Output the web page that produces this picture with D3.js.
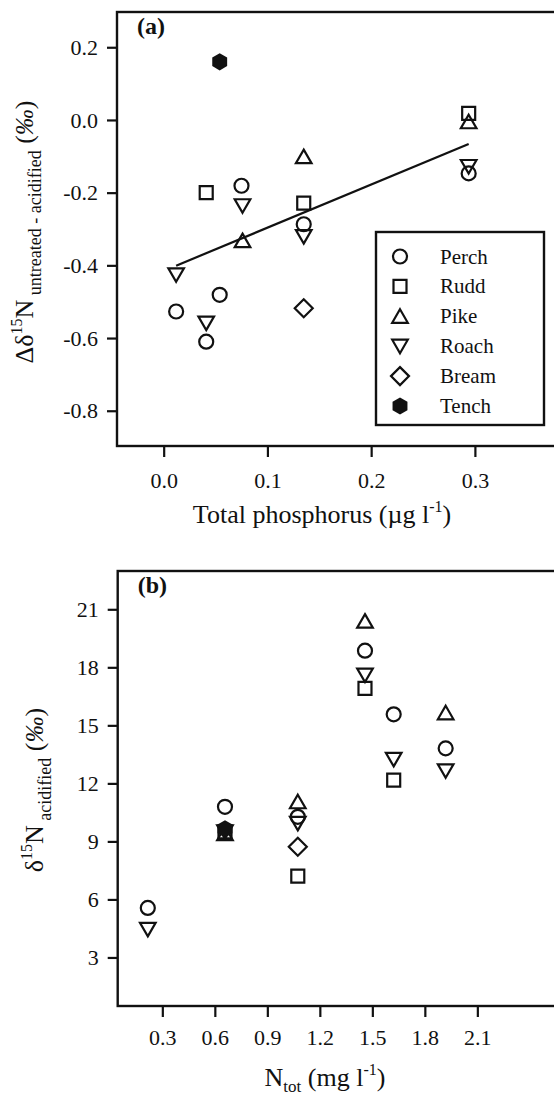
<!DOCTYPE html>
<html><head><meta charset="utf-8">
<script src="https://cdn.jsdelivr.net/npm/d3@7"></script>
<style>
html,body{margin:0;padding:0;background:#fff;}
svg{display:block;}
text{font-family:"Liberation Serif","Times New Roman",serif;fill:#111;}
</style></head>
<body>
<svg id="chart" width="554" height="1096"></svg>
<script>
// ---------- DATA ----------
const species = ["Perch", "Rudd", "Pike", "Roach", "Bream", "Tench"];
const shapes  = ["circle", "square", "triUp", "triDown", "diamond", "hexagon"];

// Panel (a): [total phosphorus, Δδ15N]
const perchA = [[0.012,-0.527],[0.041,-0.610],[0.054,-0.481],[0.075,-0.181],[0.135,-0.287],[0.294,-0.147]];
const ruddA  = [[0.041,-0.200],[0.135,-0.229],[0.294,0.018]];
const pikeA  = [[0.076,-0.332],[0.135,-0.101],[0.294,-0.005]];
const roachA = [[0.012,-0.426],[0.041,-0.559],[0.076,-0.236],[0.135,-0.321],[0.294,-0.128]];
const breamA = [[0.135,-0.518]];
const tenchA = [[0.054,0.160]];
const fitLineX = [0.012, 0.294];
const fitLineY = [-0.401, -0.066];
const xTicksA = [0.0, 0.1, 0.2, 0.3];
const yTicksA = [-0.8, -0.6, -0.4, -0.2, 0.0, 0.2];

// Panel (b): [Ntot, δ15N acidified]
const perchB = [[0.217,5.56],[0.658,10.79],[1.074,10.27],[1.458,18.86],[1.622,15.57],[1.919,13.81]];
const ruddB  = [[0.658,9.5],[1.074,7.20],[1.458,16.91],[1.622,12.17]];
const pikeB  = [[0.658,9.4],[1.074,11.05],[1.458,20.39],[1.919,15.65]];
const roachB = [[0.217,4.45],[0.658,9.5],[1.074,9.93],[1.458,17.60],[1.622,13.24],[1.919,12.65]];
const breamB = [[1.074,8.72]];
const tenchB = [[0.658,9.65]];
const xTicksB = [0.3, 0.6, 0.9, 1.2, 1.5, 1.8, 2.1];
const yTicksB = [3, 6, 9, 12, 15, 18, 21];

const seriesA = [perchA, ruddA, pikeA, roachA, breamA, tenchA];
const seriesB = [perchB, ruddB, pikeB, roachB, breamB, tenchB];

// ---------- DRAW ----------
const svg = d3.select("#chart");
const INK = "#111";
const fmt1 = v => d3.format(".1f")(v).replace("\u2212", "-");

function shapePath(type) {
  const p = d3.path();
  if (type === "circle") { p.arc(0, 0, 7, 0, 2 * Math.PI); p.closePath(); }
  else if (type === "square") { p.rect(-6.5, -6.5, 13, 13); }
  else if (type === "triUp") { p.moveTo(0, -7); p.lineTo(7.8, 6.5); p.lineTo(-7.8, 6.5); p.closePath(); }
  else if (type === "triDown") { p.moveTo(0, 7); p.lineTo(7.8, -6.5); p.lineTo(-7.8, -6.5); p.closePath(); }
  else if (type === "diamond") { p.moveTo(0, -9); p.lineTo(9, 0); p.lineTo(0, 9); p.lineTo(-9, 0); p.closePath(); }
  else if (type === "hexagon") {
    const R = 8.6;
    for (let i = 0; i < 6; i++) {
      const a = -Math.PI / 2 + i * Math.PI / 3;
      const px = R * Math.cos(a), py = R * Math.sin(a);
      if (i === 0) p.moveTo(px, py); else p.lineTo(px, py);
    }
    p.closePath();
  }
  return p.toString();
}

function drawMarker(g, type, cx, cy) {
  const filled = type === "hexagon";
  g.append("path")
    .attr("d", shapePath(type))
    .attr("transform", `translate(${cx},${cy})`)
    .attr("fill", filled ? INK : "none")
    .attr("stroke", filled ? "none" : INK)
    .attr("stroke-width", 2.2);
}

function panel(opt) {
  const g = svg.append("g");
  const x = d3.scaleLinear().domain(opt.xDomain).range([opt.left, opt.right]);
  const y = d3.scaleLinear().domain(opt.yDomain).range([opt.bottom, opt.top]);

  const ax = g.append("g").attr("transform", `translate(0,${opt.bottom})`)
    .call(d3.axisBottom(x).tickValues(opt.xTicks).tickFormat(fmt1).tickSize(11).tickSizeOuter(0).tickPadding(opt.xPad));
  const ay = g.append("g").attr("transform", `translate(${opt.left},0)`)
    .call(d3.axisLeft(y).tickValues(opt.yTicks).tickFormat(opt.yFmt).tickSize(10).tickSizeOuter(0).tickPadding(9));
  [ax, ay].forEach(a => {
    a.select(".domain").remove();
    a.selectAll(".tick line").attr("stroke", INK).attr("stroke-width", 2.2);
    a.selectAll(".tick text").attr("font-family", "Liberation Serif").attr("font-size", 22).attr("fill", INK);
  });

  // frame (right side cropped by the page edge)
  g.append("rect")
    .attr("x", opt.left).attr("y", opt.top)
    .attr("width", opt.right - opt.left).attr("height", opt.bottom - opt.top)
    .attr("fill", "none").attr("stroke", INK).attr("stroke-width", 2.4);

  g.append("text").attr("x", opt.left + 20).attr("y", opt.top + 22)
    .attr("font-size", 24).attr("font-weight", "bold").text(opt.letter);

  if (opt.line) {
    g.append("line")
      .attr("x1", x(opt.line[0][0])).attr("y1", y(opt.line[1][0]))
      .attr("x2", x(opt.line[0][1])).attr("y2", y(opt.line[1][1]))
      .attr("stroke", INK).attr("stroke-width", 2.2);
  }

  opt.series.forEach((pts, i) => {
    pts.forEach(d => drawMarker(g, shapes[i], x(d[0]), y(d[1])));
  });
  return {g, x, y};
}

// Panel (a)
const pA = panel({
  left: 117, right: 561, top: 12, bottom: 446,
  xDomain: [-0.045, 0.383], yDomain: [-0.897, 0.297],
  xTicks: xTicksA, yTicks: yTicksA, yFmt: fmt1, xPad: 15,
  letter: "(a)", series: seriesA, line: [fitLineX, fitLineY]
});

// Legend in panel (a)
const lg = svg.append("g");
lg.append("rect").attr("x", 376).attr("y", 232).attr("width", 168).attr("height", 193)
  .attr("fill", "#fff").attr("stroke", INK).attr("stroke-width", 2.4);
species.forEach((s, i) => {
  const cy = 256.5 + i * 29.9;
  drawMarker(lg, shapes[i], 400, cy);
  lg.append("text").attr("x", 440).attr("y", cy + 7).attr("font-size", 21).text(s);
});

// Panel (b)
const pB = panel({
  left: 117.7, right: 561, top: 571, bottom: 1006,
  xDomain: [0.045, 2.578], yDomain: [0.49, 22.98],
  xTicks: xTicksB, yTicks: yTicksB, yFmt: d3.format("d"), xPad: 12,
  letter: "(b)", series: seriesB, line: null
});

// Axis titles
svg.append("text").attr("x", 322).attr("y", 523).attr("text-anchor", "middle").attr("font-size", 26)
  .call(t => {
    t.append("tspan").text("Total phosphorus (\u00b5g l");
    t.append("tspan").attr("font-size", 16).attr("dy", -11).text("-1");
    t.append("tspan").attr("dy", 11).text(")");
  });
svg.append("text").attr("x", 325).attr("y", 1086).attr("text-anchor", "middle").attr("font-size", 26)
  .call(t => {
    t.append("tspan").text("N");
    t.append("tspan").attr("font-size", 17).attr("dy", 6).text("tot");
    t.append("tspan").attr("dy", -6).text(" (mg l");
    t.append("tspan").attr("font-size", 16).attr("dy", -11).text("-1");
    t.append("tspan").attr("dy", 11).text(")");
  });
svg.append("text").attr("transform", "translate(33,232) rotate(-90)").attr("text-anchor", "middle").attr("font-size", 26)
  .call(t => {
    t.append("tspan").text("\u0394\u03b4");
    t.append("tspan").attr("font-size", 16).attr("dy", -11).text("15");
    t.append("tspan").attr("dy", 11).text("N");
    t.append("tspan").attr("font-size", 18).attr("dy", 8).text(" untreated - acidified");
    t.append("tspan").attr("dy", -8).text(" (");
    t.append("tspan").attr("font-style", "italic").text("\u2030");
    t.append("tspan").text(")");
  });
svg.append("text").attr("transform", "translate(43,790) rotate(-90)").attr("text-anchor", "middle").attr("font-size", 26)
  .call(t => {
    t.append("tspan").text("\u03b4");
    t.append("tspan").attr("font-size", 16).attr("dy", -11).text("15");
    t.append("tspan").attr("dy", 11).text("N");
    t.append("tspan").attr("font-size", 18).attr("dy", 8).text(" acidified");
    t.append("tspan").attr("dy", -8).text(" (");
    t.append("tspan").attr("font-style", "italic").text("\u2030");
    t.append("tspan").text(")");
  });
</script>
</body></html>
